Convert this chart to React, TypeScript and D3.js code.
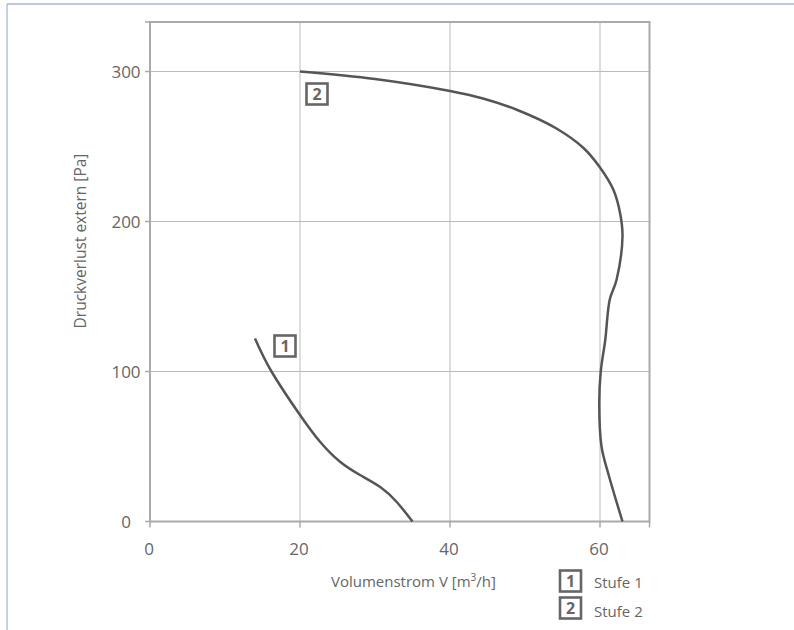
import React from "react";
import * as d3 from "d3";

const xTicks = [0, 20, 40, 60];
const yTicks = [0, 100, 200, 300];

// Stufe 1: [Volumenstrom m3/h, Druck Pa]
const stufe1X = [14.0, 16.2, 20.0, 22.7, 25.3, 28.0, 30.7, 32.9, 35.0];
const stufe1Y = [122, 100, 71, 53, 40, 31, 23, 13, 0];

// Stufe 2
const stufe2X = [20.0, 30.0, 40.0, 44.4, 48.9, 54.2, 57.8, 60.0, 61.8, 62.7, 63.0, 62.2, 61.3, 60.7, 60.1, 59.9, 60.2, 61.1, 63.0];
const stufe2Y = [300, 295, 287, 282, 274.5, 262, 249, 236, 221, 205, 190, 161, 148, 121, 100, 79, 50, 32, 0];

const legendKeys = ["1", "2"];
const legendLabels = ["Stufe 1", "Stufe 2"];

const FONT = "'Open Sans', 'DejaVu Sans', sans-serif";
const TEXT = "#666";

export default function App() {
  const x = d3.scaleLinear().domain([0, 66.6]).range([150, 649.5]);
  const y = d3.scaleLinear().domain([0, 333]).range([521.5, 22]);

  const line1 = d3
    .line<[number, number]>()
    .x((d) => x(d[0]))
    .y((d) => y(d[1]))
    .curve(d3.curveNatural);

  const line2 = d3
    .line<[number, number]>()
    .x((d) => x(d[0]))
    .y((d) => y(d[1]))
    .curve(d3.curveCatmullRom.alpha(0.5));

  const s1 = stufe1X.map((v, i) => [v, stufe1Y[i]] as [number, number]);
  const s2 = stufe2X.map((v, i) => [v, stufe2Y[i]] as [number, number]);

  const [x0, x1] = x.range();
  const [y0, y1] = y.range();

  const badge = (cx: number, cy: number, label: string, key: string) => (
    <g key={key}>
      <rect x={cx - 10.5} y={cy - 10.5} width={21} height={21} fill="#fff" stroke="#666" strokeWidth={2.6} />
      <text x={cx} y={cy + 6} textAnchor="middle" fontFamily={FONT} fontWeight={700} fontSize={16} fill="#666">
        {label}
      </text>
    </g>
  );

  return (
    <svg width={794} height={630} style={{ position: "absolute", left: 0, top: 0 }}>
      <rect x={0} y={0} width={794} height={630} fill="#fff" />
      {/* page frame */}
      <line x1={7} x2={794} y1={4} y2={4} stroke="#a9b6d8" strokeWidth={1.3} />
      <line x1={7} x2={7} y1={4} y2={630} stroke="#a9b6d8" strokeWidth={1.3} />

      {/* grid */}
      {xTicks.filter((t) => t > 0).map((t) => (
        <line key={"gx" + t} x1={x(t)} x2={x(t)} y1={y1} y2={y0} stroke="#bbb" strokeWidth={1} />
      ))}
      {yTicks.filter((t) => t > 0).map((t) => (
        <line key={"gy" + t} x1={x0} x2={x1} y1={y(t)} y2={y(t)} stroke="#bbb" strokeWidth={1} />
      ))}

      {/* frame */}
      <rect x={x0} y={y1} width={x1 - x0} height={y0 - y1} fill="none" stroke="#aaa" strokeWidth={2} />

      {/* ticks */}
      {[...xTicks, 66.6].map((t) => (
        <line key={"tx" + t} x1={x(t)} x2={x(t)} y1={y0} y2={y0 + 6} stroke="#aaa" strokeWidth={1.5} />
      ))}
      {[...yTicks, 333].map((t) => (
        <line key={"ty" + t} x1={x0 - 5} x2={x0} y1={y(t)} y2={y(t)} stroke="#aaa" strokeWidth={1.5} />
      ))}

      {/* tick labels */}
      {xTicks.map((t) => (
        <text key={"lx" + t} x={x(t) - 1} y={555} textAnchor="middle" fontFamily={FONT} fontSize={17} fill={TEXT}>
          {t}
        </text>
      ))}
      {yTicks.map((t) => (
        <text key={"ly" + t} x={126} y={y(t) + 6} textAnchor="middle" fontFamily={FONT} fontSize={17} fill={TEXT}>
          {t}
        </text>
      ))}

      {/* axis titles */}
      <text x={331} y={587} fontFamily={FONT} fontSize={15} fill={TEXT}>
        Volumenstrom V [m
        <tspan fontSize={10} dy={-6}>3</tspan>
        <tspan dy={6}>/h]</tspan>
      </text>
      <text
        transform="translate(86,241) rotate(-90)"
        textAnchor="middle"
        fontFamily={FONT}
        fontSize={15.5}
        fill={TEXT}
      >
        Druckverlust extern [Pa]
      </text>

      {/* curves */}
      <path d={line1(s1) || ""} fill="none" stroke="#555" strokeWidth={2.5} />
      <path d={line2(s2) || ""} fill="none" stroke="#555" strokeWidth={2.5} />

      {/* curve badges */}
      {badge(285, 346, "1", "b1")}
      {badge(317, 94, "2", "b2")}

      {/* legend */}
      {legendKeys.map((k, i) => (
        <g key={"lg" + k}>
          {badge(570.5, 581 + i * 27, k, "lb" + k)}
          <text x={594} y={588 + i * 29} fontFamily={FONT} fontSize={15} fill={TEXT}>
            {legendLabels[i]}
          </text>
        </g>
      ))}
    </svg>
  );
}
